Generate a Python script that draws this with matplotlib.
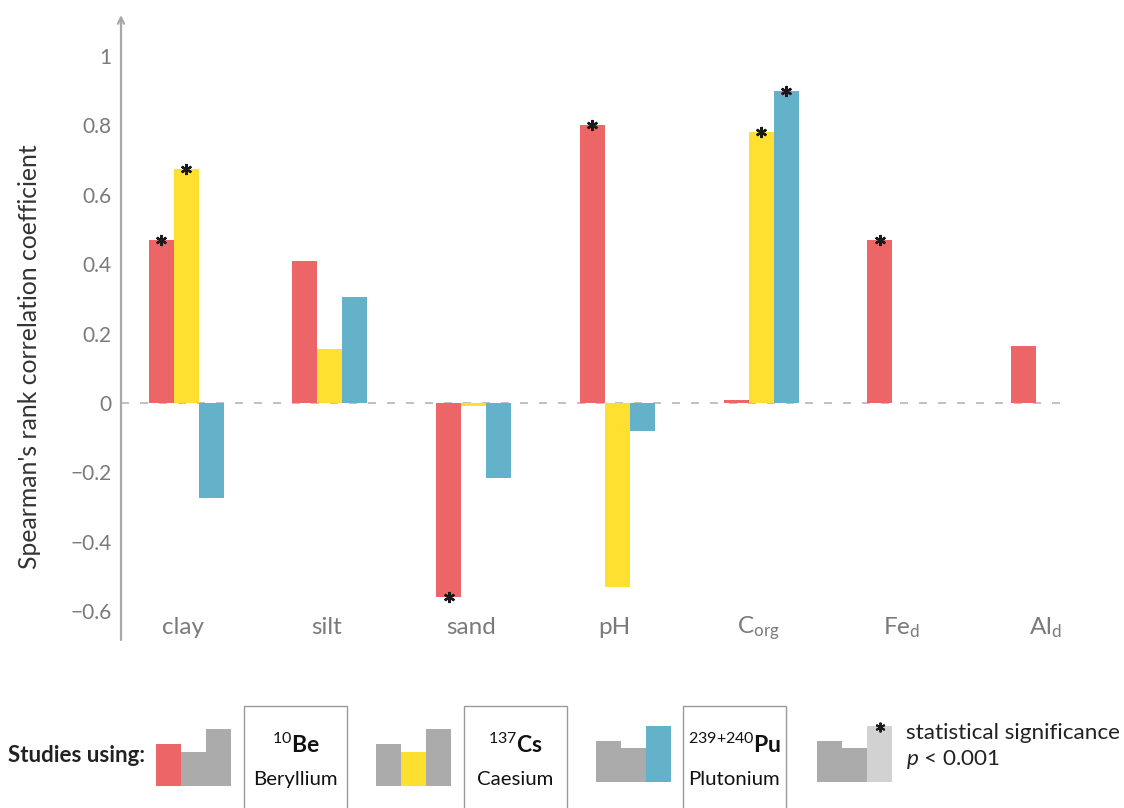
import numpy as np
import matplotlib
matplotlib.use("Agg")
import matplotlib.pyplot as plt
from matplotlib.patches import Rectangle

plt.rcParams['font.family'] = ['Lato', 'DejaVu Sans']
plt.rcParams['mathtext.fontset'] = 'custom'
plt.rcParams['mathtext.rm'] = 'Lato'
plt.rcParams['mathtext.it'] = 'Lato:italic'
plt.rcParams['mathtext.bf'] = 'Lato:bold'

# ---- data -------------------------------------------------------------
categories = ['clay', 'silt', 'sand', 'pH', r'C$_{\mathrm{org}}$',
              r'Fe$_{\mathrm{d}}$', r'Al$_{\mathrm{d}}$']
be10 = [0.47, 0.41, -0.56, 0.80, 0.01, 0.47, 0.165]
cs137 = [0.675, 0.155, -0.01, -0.53, 0.78, np.nan, np.nan]
pu239 = [-0.275, 0.305, -0.215, -0.08, 0.90, np.nan, np.nan]
sig_be10 = [True, False, True, True, False, True, False]
sig_cs137 = [True, False, False, False, True, False, False]
sig_pu239 = [False, False, False, False, True, False, False]
yticks = [-0.6, -0.4, -0.2, 0, 0.2, 0.4, 0.6, 0.8, 1]

RED = '#EC6667'
YELLOW = '#FFE031'
BLUE = '#64B2C9'
GREY = '#ABABAB'
LIGHT = '#D2D2D2'
AXIS = '#A8A8A8'

W, H = 1124, 808
fig = plt.figure(figsize=(W / 100, H / 100), dpi=100)

# ---- main axes --------------------------------------------------------
left, right, top, bottom = 121, 1070, 15, 640
ax = fig.add_axes([left / W, 1 - bottom / H, (right - left) / W, (bottom - top) / H])

x = np.arange(len(categories))
bw = 0.174
series = [(be10, sig_be10, RED, -bw), (cs137, sig_cs137, YELLOW, 0.0),
          (pu239, sig_pu239, BLUE, bw)]
for vals, sig, col, off in series:
    vals = np.asarray(vals, dtype=float)
    ax.bar(x + off, vals, width=bw, color=col, edgecolor='none', zorder=2)
    sig = np.asarray(sig)
    ax.plot(x[sig] + off, vals[sig], ls='none', marker=(6, 2, 0),
            markersize=8, markeredgewidth=1.7, color='#1a1a1a', zorder=4)

ax.axhline(0, color='#B5B5B5', lw=1.2, dashes=(4.8, 6.6), zorder=1)

ax.set_xlim(-0.4537, 6.150)
ax.set_ylim(-0.683, 1.118)
for s in ax.spines.values():
    s.set_visible(False)
ax.set_xticks([])
ax.set_yticks(yticks)
ax.set_yticklabels(['0' if v == 0 else '1' if v == 1 else
                    f'{v:.1f}'.replace('-', '\u2212') for v in yticks])
ax.tick_params(axis='y', length=0, pad=7, labelsize=15, labelcolor='#7A7A7A')

# y axis drawn as an arrow
ax.annotate('', xy=(0, 1), xytext=(0, 0), xycoords='axes fraction',
            arrowprops=dict(arrowstyle='->,head_length=0.45,head_width=0.22',
                            color=AXIS, lw=1.6, shrinkA=0, shrinkB=0))

for xi, lab in zip(x, categories):
    ax.text(xi - 0.02, -0.648, lab, ha='center', va='center', fontsize=17.5,
            color='#7A7A7A')

fig.text(30 / W, 1 - 357 / H, "Spearman's rank correlation coefficient",
         rotation=90, ha='center', va='center', fontsize=17.8, color='#333333')

# ---- key strip --------------------------------------------------------
lg = fig.add_axes([0, 0, 1, (H - 690) / H])
lg.set_xlim(0, W)
lg.set_ylim(H, 690)
lg.axis('off')

lg.text(8, 756, 'Studies using:', fontsize=16, fontweight='bold',
        ha='left', va='center', color='#222222')


def mini_bars(x0, base, colors, tops, star=False):
    bwid = 25
    for i, (c, t) in enumerate(zip(colors, tops)):
        lg.add_patch(Rectangle((x0 + i * bwid, t), bwid, base - t,
                               facecolor=c, edgecolor='none'))
    if star:
        lg.plot([x0 + 2.5 * bwid], [tops[2] + 1], ls='none', marker=(6, 2, 0),
                markersize=7, markeredgewidth=1.4, color='#1a1a1a')


def isotope_box(x0, x1, head, name):
    lg.add_patch(Rectangle((x0, 706), x1 - x0, 140, facecolor='none',
                           edgecolor='#9A9A9A', lw=1.0))
    cx = (x0 + x1) / 2
    lg.text(cx, 745, head, ha='center', va='center', fontsize=16.5,
            color='#111111')
    lg.text(cx, 780, name, ha='center', va='center', fontsize=14.7,
            color='#111111')


mini_bars(156, 786, [RED, GREY, GREY], [744, 752, 729])
isotope_box(244, 347, r'$^{10}\mathbf{Be}$', 'Beryllium')
mini_bars(376, 786, [GREY, YELLOW, GREY], [744, 752, 729])
isotope_box(464, 567, r'$^{137}\mathbf{Cs}$', 'Caesium')
mini_bars(596, 782, [GREY, GREY, BLUE], [741, 748, 726])
isotope_box(683, 786, r'$^{239{+}240}\mathbf{Pu}$', 'Plutonium')
mini_bars(817, 782, [GREY, GREY, LIGHT], [741, 748, 726], star=True)

lg.text(906, 733, 'statistical significance', ha='left', va='center',
        fontsize=16.2, color='#222222')
lg.text(906, 760, r'$p$ < 0.001', ha='left', va='center',
        fontsize=16.2, color='#222222')

fig.savefig('out.png', dpi=100)
